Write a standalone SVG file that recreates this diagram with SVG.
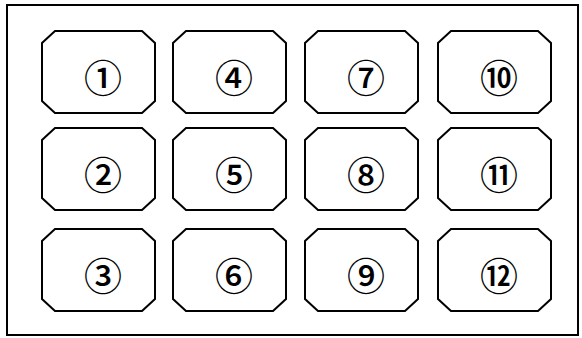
<svg xmlns="http://www.w3.org/2000/svg" width="582" height="338" viewBox="0 0 582 338">
<style>
.box{fill:#fff;stroke:#000;stroke-width:2;stroke-linejoin:miter}
.lbl{font-family:"Noto Sans CJK JP","DejaVu Sans",sans-serif;font-size:38px;font-weight:500;fill:#000;text-anchor:middle;dominant-baseline:central}
</style>
<defs>
<path id="oct" d="M13,0 H100 L113,12 V70 L100,82 H13 L0,70 V12 Z"/>
</defs>
<rect x="0" y="0" width="582" height="338" fill="#fff"/>
<rect id="frame" x="7" y="5" width="571" height="330" fill="none" stroke="#000" stroke-width="2"/>
<g id="connectors"/>
<g id="n1"><use href="#oct" class="box" x="42" y="31"/><text class="lbl" x="103" y="75">①</text></g>
<g id="n2"><use href="#oct" class="box" x="42" y="128"/><text class="lbl" x="103" y="172">②</text></g>
<g id="n3"><use href="#oct" class="box" x="42" y="229"/><text class="lbl" x="103" y="273">③</text></g>
<g id="n4"><use href="#oct" class="box" x="173" y="31"/><text class="lbl" x="234" y="75">④</text></g>
<g id="n5"><use href="#oct" class="box" x="173" y="128"/><text class="lbl" x="234" y="172">⑤</text></g>
<g id="n6"><use href="#oct" class="box" x="173" y="229"/><text class="lbl" x="234" y="273">⑥</text></g>
<g id="n7"><use href="#oct" class="box" x="305" y="31"/><text class="lbl" x="366" y="75">⑦</text></g>
<g id="n8"><use href="#oct" class="box" x="305" y="128"/><text class="lbl" x="366" y="172">⑧</text></g>
<g id="n9"><use href="#oct" class="box" x="305" y="229"/><text class="lbl" x="366" y="273">⑨</text></g>
<g id="n10"><use href="#oct" class="box" x="438" y="31"/><text class="lbl" x="499" y="75">⑩</text></g>
<g id="n11"><use href="#oct" class="box" x="438" y="128"/><text class="lbl" x="499" y="172">⑪</text></g>
<g id="n12"><use href="#oct" class="box" x="438" y="229"/><text class="lbl" x="499" y="273">⑫</text></g>
</svg>
